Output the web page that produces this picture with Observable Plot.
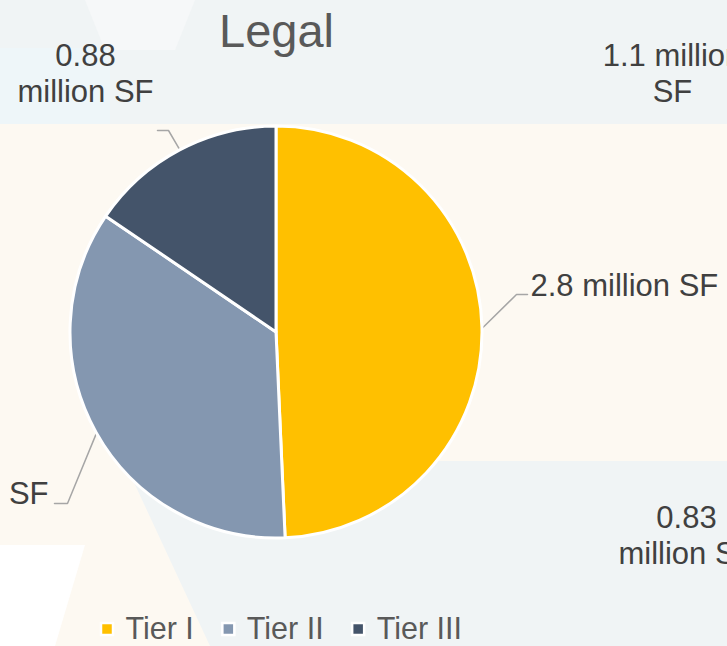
<!DOCTYPE html>
<html><head><meta charset="utf-8">
<script src="https://cdn.jsdelivr.net/npm/d3@7"></script>
<script src="https://cdn.jsdelivr.net/npm/@observablehq/plot@0.6"></script>
<style>
html,body{margin:0;padding:0;width:727px;height:646px;overflow:hidden;background:#f0f4f5;}
#chart{position:absolute;left:0;top:0;}
</style></head><body>
<div id="chart"></div>
<script>
// ---- data ----
const title = "Legal";
const tiers = ["Tier I", "Tier II", "Tier III"];
const areas = [2.8, 2.0, 0.88];               // million SF
const sliceLabels = ["2.8 million SF", "2.0 million SF", "0.88\nmillion SF"];
const colors = ["#ffc000", "#8497b0", "#44546a"];
// labels belonging to neighbouring charts, partly visible at the edges
const otherLabels = ["1.1 million\nSF", "0.83\nmillion SF"];

// ---- layout (positions in px) ----
const W = 727, H = 646;
const FONT = "Liberation Sans, Arial, sans-serif";
const pie = {cx: 276, cy: 332, r: 206};
const labelFs = 31, lineH = 36;
const labelLayout = [
  {elbow: [516, 294], end: [527, 294], tx: 530, base: 292, anchor: "start"},
  {elbow: [67, 503], end: [54, 503], tx: 48, base: 500, anchor: "end"},
  {elbow: [168, 130], end: [157, 130], tx: 85, base: 62, anchor: "middle"}
];
const otherLayout = [
  {tx: 672, base: 62}, {tx: 686, base: 524}
];
const legendLayout = {x0: 101, yc: 629, sq: 12, gapText: 12, gapItem: 29, fs: 30.5};

const rows = tiers.map((t, i) => ({tier: t, area: areas[i], label: sliceLabels[i]}));
const arcs = d3.pie().sort(null).value(d => d.area)(rows);

// leader lines
const leaders = [];
arcs.forEach((a, i) => {
  const m = (a.startAngle + a.endAngle) / 2;
  const L = labelLayout[i];
  const p0 = [pie.cx + pie.r * Math.sin(m), pie.cy - pie.r * Math.cos(m)];
  [p0, L.elbow, L.end].forEach(p => leaders.push({tier: a.data.tier, x: p[0], y: p[1]}));
});
const labelRows = rows.map((r, i) => ({...r, x: labelLayout[i].tx,
  y: labelLayout[i].base - 0.71 * labelFs, anchor: labelLayout[i].anchor}));
const otherRows = otherLabels.map((t, i) => ({text: t, x: otherLayout[i].tx,
  y: otherLayout[i].base - 0.71 * labelFs}));

// legend positions from text widths
const ctx = document.createElement("canvas").getContext("2d");
ctx.font = `${legendLayout.fs}px ${FONT}`;
let lx = legendLayout.x0;
const legendRows = tiers.map(t => {
  const r = {tier: t, sx: lx, tx: lx + legendLayout.sq + legendLayout.gapText};
  lx = r.tx + ctx.measureText(t).width + legendLayout.gapItem;
  return r;
});

function background() {
  const g = d3.create("svg:g");
  const poly = (pts, fill) => g.append("polygon").attr("points", pts.map(p => p.join(",")).join(" ")).attr("fill", fill);
  poly([[0,0],[W,0],[W,H],[0,H]], "#f0f4f5");
  poly([[85,0],[195,0],[175,50],[105,50]], "#f6f8f9");
  poly([[0,48],[110,48],[110,124],[0,124]], "#eef6f9");
  poly([[0,124],[W,124],[W,461],[124,461],[210,H],[0,H]], "#fdf9f2");
  poly([[0,545],[85,545],[55,H],[0,H]], "#ffffff");
  return g.node();
}

function pieMark(index, scales) {
  const sx = scales.x || (v => v), sy = scales.y || (v => v);
  const col = scales.color || (t => colors[tiers.indexOf(t)]);
  const arc = d3.arc().innerRadius(0).outerRadius(pie.r);
  const g = d3.create("svg:g").attr("transform", `translate(${sx(pie.cx)},${sy(pie.cy)})`);
  g.selectAll("path").data(arcs).join("path")
    .attr("d", arc).attr("fill", d => col(d.data.tier))
    .attr("stroke", "white").attr("stroke-width", 3).attr("stroke-linejoin", "round");
  return g.node();
}

const txt = {lineAnchor: "top", fontSize: labelFs, lineHeight: lineH / labelFs, fill: "#404040", fontFamily: FONT};
const chart = Plot.plot({
  width: W, height: H, margin: 0,
  style: {background: "transparent", fontFamily: FONT},
  x: {domain: [0, W], range: [0, W], axis: null},
  y: {domain: [0, H], range: [0, H], axis: null},
  color: {domain: tiers, range: colors},
  marks: [
    background,
    Plot.line(leaders, {x: "x", y: "y", z: "tier", stroke: "#a6a6a6", strokeWidth: 1.5}),
    pieMark,
    Plot.text([title], {x: pie.cx, y: 31, text: d => d, fontSize: 47, fill: "#595959",
      fontFamily: FONT, lineAnchor: "middle"}),
    Plot.text(labelRows.filter(d => d.anchor === "start"), {x: "x", y: "y", text: "label", textAnchor: "start", ...txt}),
    Plot.text(labelRows.filter(d => d.anchor === "end"), {x: "x", y: "y", text: "label", textAnchor: "end", ...txt}),
    Plot.text(labelRows.filter(d => d.anchor === "middle"), {x: "x", y: "y", text: "label", textAnchor: "middle", ...txt}),
    Plot.text(otherRows, {x: "x", y: "y", text: "text", textAnchor: "middle", ...txt}),
    Plot.rect(legendRows, {x1: "sx", x2: d => d.sx + legendLayout.sq,
      y1: legendLayout.yc - legendLayout.sq / 2, y2: legendLayout.yc + legendLayout.sq / 2,
      fill: "tier", stroke: "white", strokeWidth: 2.5}),
    Plot.text(legendRows, {x: "tx", y: legendLayout.yc, text: "tier", textAnchor: "start",
      lineAnchor: "middle", fontSize: legendLayout.fs, fill: "#595959", fontFamily: FONT})
  ]
});
document.getElementById("chart").append(chart);
</script>
</body></html>
